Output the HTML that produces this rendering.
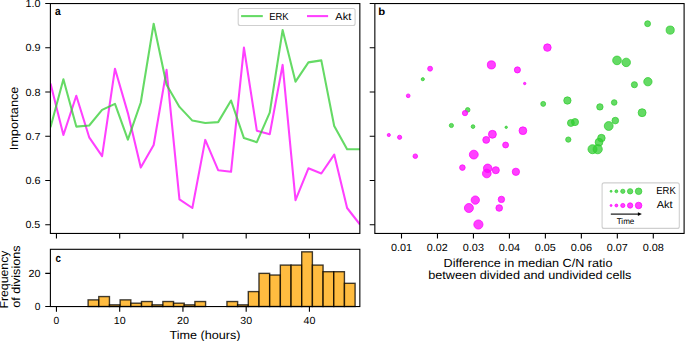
<!DOCTYPE html>
<html><head><meta charset="utf-8"><title>Figure</title>
<style>html,body{margin:0;padding:0;background:#fff;}body{width:685px;height:341px;overflow:hidden;font-family:"Liberation Sans",sans-serif;}svg{display:block;}</style>
</head><body>
<svg width="685" height="341" viewBox="0 0 685 341" font-family="Liberation Sans, sans-serif" text-rendering="geometricPrecision">
<rect width="685" height="341" fill="#fff"/>
<clipPath id="ca"><rect x="50.4" y="3.55" width="309.45000000000005" height="229.89999999999998"/></clipPath>
<g clip-path="url(#ca)"><polyline points="50.50,83.50 63.40,135.00 76.29,95.80 89.19,137.30 102.08,156.20 114.98,68.70 127.88,113.10 140.77,167.60 153.67,145.00 166.56,69.90 179.46,199.40 192.35,208.00 205.25,139.90 218.15,170.20 231.04,171.80 243.94,47.60 256.83,130.70 269.73,134.30 282.62,64.90 295.52,200.10 308.42,168.30 321.31,173.50 334.21,154.60 347.10,208.00 360.00,224.50" fill="none" stroke="rgba(255,0,255,0.75)" stroke-width="2.08" stroke-linejoin="round" stroke-linecap="butt"/><polyline points="50.50,127.30 63.40,79.20 76.29,126.60 89.19,125.50 102.08,109.90 114.98,103.90 127.88,139.60 140.77,102.50 153.67,23.70 166.56,84.70 179.46,106.90 192.35,120.60 205.25,123.00 218.15,122.10 231.04,100.50 243.94,138.10 256.83,142.20 269.73,112.70 282.62,30.10 295.52,81.70 308.42,62.40 321.31,60.40 334.21,126.00 347.10,149.20 360.00,149.20" fill="none" stroke="rgba(50,205,50,0.75)" stroke-width="2.08" stroke-linejoin="round" stroke-linecap="butt"/></g>
<rect x="238.2" y="8.5" width="116.90000000000003" height="17.0" rx="2" ry="2" fill="rgba(255,255,255,0.8)" stroke="#cfcfcf" stroke-width="1.1"/>
<line x1="241.1" y1="16.1" x2="262.8" y2="16.1" stroke="rgba(50,205,50,0.75)" stroke-width="2.08"/>
<line x1="307.0" y1="16.1" x2="328.1" y2="16.1" stroke="rgba(255,0,255,0.75)" stroke-width="2.08"/>
<text x="269.13" y="19.80" font-size="10.30" textLength="19.40" lengthAdjust="spacingAndGlyphs" fill="#000">ERK</text>
<text x="335.38" y="19.80" font-size="10.30" textLength="15.88" lengthAdjust="spacingAndGlyphs" fill="#000">Akt</text>
<clipPath id="cb"><rect x="374.85" y="3.55" width="309.25" height="229.89999999999998"/></clipPath>
<g clip-path="url(#cb)"><circle cx="506.2" cy="127.3" r="1.20" fill="rgba(50,205,50,0.75)" stroke="rgba(50,205,50,0.75)" stroke-width="1.0"/><circle cx="422.8" cy="79.2" r="1.59" fill="rgba(50,205,50,0.75)" stroke="rgba(50,205,50,0.75)" stroke-width="1.0"/><circle cx="473.0" cy="126.6" r="1.87" fill="rgba(50,205,50,0.75)" stroke="rgba(50,205,50,0.75)" stroke-width="1.0"/><circle cx="451.4" cy="125.5" r="2.10" fill="rgba(50,205,50,0.75)" stroke="rgba(50,205,50,0.75)" stroke-width="1.0"/><circle cx="467.7" cy="109.9" r="2.30" fill="rgba(50,205,50,0.75)" stroke="rgba(50,205,50,0.75)" stroke-width="1.0"/><circle cx="543.2" cy="103.9" r="2.48" fill="rgba(50,205,50,0.75)" stroke="rgba(50,205,50,0.75)" stroke-width="1.0"/><circle cx="568.3" cy="139.6" r="2.64" fill="rgba(50,205,50,0.75)" stroke="rgba(50,205,50,0.75)" stroke-width="1.0"/><circle cx="614.2" cy="102.5" r="2.80" fill="rgba(50,205,50,0.75)" stroke="rgba(50,205,50,0.75)" stroke-width="1.0"/><circle cx="647.6" cy="23.7" r="2.94" fill="rgba(50,205,50,0.75)" stroke="rgba(50,205,50,0.75)" stroke-width="1.0"/><circle cx="634.4" cy="84.7" r="3.07" fill="rgba(50,205,50,0.75)" stroke="rgba(50,205,50,0.75)" stroke-width="1.0"/><circle cx="599.9" cy="106.9" r="3.20" fill="rgba(50,205,50,0.75)" stroke="rgba(50,205,50,0.75)" stroke-width="1.0"/><circle cx="615.3" cy="120.6" r="3.32" fill="rgba(50,205,50,0.75)" stroke="rgba(50,205,50,0.75)" stroke-width="1.0"/><circle cx="570.9" cy="123.0" r="3.44" fill="rgba(50,205,50,0.75)" stroke="rgba(50,205,50,0.75)" stroke-width="1.0"/><circle cx="575.0" cy="122.1" r="3.55" fill="rgba(50,205,50,0.75)" stroke="rgba(50,205,50,0.75)" stroke-width="1.0"/><circle cx="567.4" cy="100.5" r="3.66" fill="rgba(50,205,50,0.75)" stroke="rgba(50,205,50,0.75)" stroke-width="1.0"/><circle cx="601.4" cy="138.1" r="3.77" fill="rgba(50,205,50,0.75)" stroke="rgba(50,205,50,0.75)" stroke-width="1.0"/><circle cx="599.0" cy="142.2" r="3.87" fill="rgba(50,205,50,0.75)" stroke="rgba(50,205,50,0.75)" stroke-width="1.0"/><circle cx="642.1" cy="112.7" r="3.97" fill="rgba(50,205,50,0.75)" stroke="rgba(50,205,50,0.75)" stroke-width="1.0"/><circle cx="670.2" cy="30.1" r="4.06" fill="rgba(50,205,50,0.75)" stroke="rgba(50,205,50,0.75)" stroke-width="1.0"/><circle cx="647.9" cy="81.7" r="4.16" fill="rgba(50,205,50,0.75)" stroke="rgba(50,205,50,0.75)" stroke-width="1.0"/><circle cx="626.2" cy="62.4" r="4.25" fill="rgba(50,205,50,0.75)" stroke="rgba(50,205,50,0.75)" stroke-width="1.0"/><circle cx="617.0" cy="60.4" r="4.34" fill="rgba(50,205,50,0.75)" stroke="rgba(50,205,50,0.75)" stroke-width="1.0"/><circle cx="608.7" cy="126.0" r="4.42" fill="rgba(50,205,50,0.75)" stroke="rgba(50,205,50,0.75)" stroke-width="1.0"/><circle cx="592.5" cy="149.2" r="4.51" fill="rgba(50,205,50,0.75)" stroke="rgba(50,205,50,0.75)" stroke-width="1.0"/><circle cx="597.7" cy="149.2" r="4.59" fill="rgba(50,205,50,0.75)" stroke="rgba(50,205,50,0.75)" stroke-width="1.0"/><circle cx="524.7" cy="83.5" r="1.20" fill="rgba(255,0,255,0.75)" stroke="rgba(255,0,255,0.75)" stroke-width="1.0"/><circle cx="388.8" cy="135.0" r="1.59" fill="rgba(255,0,255,0.75)" stroke="rgba(255,0,255,0.75)" stroke-width="1.0"/><circle cx="408.2" cy="95.8" r="1.87" fill="rgba(255,0,255,0.75)" stroke="rgba(255,0,255,0.75)" stroke-width="1.0"/><circle cx="399.6" cy="137.3" r="2.10" fill="rgba(255,0,255,0.75)" stroke="rgba(255,0,255,0.75)" stroke-width="1.0"/><circle cx="415.3" cy="156.2" r="2.30" fill="rgba(255,0,255,0.75)" stroke="rgba(255,0,255,0.75)" stroke-width="1.0"/><circle cx="430.1" cy="68.7" r="2.48" fill="rgba(255,0,255,0.75)" stroke="rgba(255,0,255,0.75)" stroke-width="1.0"/><circle cx="465.0" cy="113.1" r="2.64" fill="rgba(255,0,255,0.75)" stroke="rgba(255,0,255,0.75)" stroke-width="1.0"/><circle cx="462.4" cy="167.6" r="2.80" fill="rgba(255,0,255,0.75)" stroke="rgba(255,0,255,0.75)" stroke-width="1.0"/><circle cx="505.6" cy="145.0" r="2.94" fill="rgba(255,0,255,0.75)" stroke="rgba(255,0,255,0.75)" stroke-width="1.0"/><circle cx="517.4" cy="69.9" r="3.07" fill="rgba(255,0,255,0.75)" stroke="rgba(255,0,255,0.75)" stroke-width="1.0"/><circle cx="501.4" cy="199.4" r="3.20" fill="rgba(255,0,255,0.75)" stroke="rgba(255,0,255,0.75)" stroke-width="1.0"/><circle cx="499.2" cy="208.0" r="3.32" fill="rgba(255,0,255,0.75)" stroke="rgba(255,0,255,0.75)" stroke-width="1.0"/><circle cx="486.2" cy="139.9" r="3.44" fill="rgba(255,0,255,0.75)" stroke="rgba(255,0,255,0.75)" stroke-width="1.0"/><circle cx="495.8" cy="170.2" r="3.55" fill="rgba(255,0,255,0.75)" stroke="rgba(255,0,255,0.75)" stroke-width="1.0"/><circle cx="515.9" cy="171.8" r="3.66" fill="rgba(255,0,255,0.75)" stroke="rgba(255,0,255,0.75)" stroke-width="1.0"/><circle cx="547.4" cy="47.6" r="3.77" fill="rgba(255,0,255,0.75)" stroke="rgba(255,0,255,0.75)" stroke-width="1.0"/><circle cx="522.9" cy="130.7" r="3.87" fill="rgba(255,0,255,0.75)" stroke="rgba(255,0,255,0.75)" stroke-width="1.0"/><circle cx="492.4" cy="134.3" r="3.97" fill="rgba(255,0,255,0.75)" stroke="rgba(255,0,255,0.75)" stroke-width="1.0"/><circle cx="491.4" cy="64.9" r="4.06" fill="rgba(255,0,255,0.75)" stroke="rgba(255,0,255,0.75)" stroke-width="1.0"/><circle cx="475.3" cy="200.1" r="4.16" fill="rgba(255,0,255,0.75)" stroke="rgba(255,0,255,0.75)" stroke-width="1.0"/><circle cx="487.7" cy="168.3" r="4.25" fill="rgba(255,0,255,0.75)" stroke="rgba(255,0,255,0.75)" stroke-width="1.0"/><circle cx="486.8" cy="173.5" r="4.34" fill="rgba(255,0,255,0.75)" stroke="rgba(255,0,255,0.75)" stroke-width="1.0"/><circle cx="473.8" cy="154.6" r="4.42" fill="rgba(255,0,255,0.75)" stroke="rgba(255,0,255,0.75)" stroke-width="1.0"/><circle cx="468.9" cy="208.0" r="4.51" fill="rgba(255,0,255,0.75)" stroke="rgba(255,0,255,0.75)" stroke-width="1.0"/><circle cx="478.4" cy="224.5" r="4.59" fill="rgba(255,0,255,0.75)" stroke="rgba(255,0,255,0.75)" stroke-width="1.0"/></g>
<rect x="602.1" y="182.9" width="77.19999999999993" height="45.5" rx="2" ry="2" fill="rgba(255,255,255,0.8)" stroke="#cfcfcf" stroke-width="1.1"/>
<circle cx="611.07" cy="191.3" r="0.99" fill="rgba(50,205,50,0.75)" stroke="rgba(50,205,50,0.75)" stroke-width="1.0"/>
<circle cx="611.07" cy="205.5" r="0.99" fill="rgba(255,0,255,0.75)" stroke="rgba(255,0,255,0.75)" stroke-width="1.0"/>
<circle cx="616.38" cy="191.3" r="1.44" fill="rgba(50,205,50,0.75)" stroke="rgba(50,205,50,0.75)" stroke-width="1.0"/>
<circle cx="616.38" cy="205.5" r="1.44" fill="rgba(255,0,255,0.75)" stroke="rgba(255,0,255,0.75)" stroke-width="1.0"/>
<circle cx="622.82" cy="191.3" r="2.1100000000000003" fill="rgba(50,205,50,0.75)" stroke="rgba(50,205,50,0.75)" stroke-width="1.0"/>
<circle cx="622.82" cy="205.5" r="2.1100000000000003" fill="rgba(255,0,255,0.75)" stroke="rgba(255,0,255,0.75)" stroke-width="1.0"/>
<circle cx="630.12" cy="191.3" r="2.67" fill="rgba(50,205,50,0.75)" stroke="rgba(50,205,50,0.75)" stroke-width="1.0"/>
<circle cx="630.12" cy="205.5" r="2.67" fill="rgba(255,0,255,0.75)" stroke="rgba(255,0,255,0.75)" stroke-width="1.0"/>
<circle cx="638.6" cy="191.3" r="3.27" fill="rgba(50,205,50,0.75)" stroke="rgba(50,205,50,0.75)" stroke-width="1.0"/>
<circle cx="638.6" cy="205.5" r="3.27" fill="rgba(255,0,255,0.75)" stroke="rgba(255,0,255,0.75)" stroke-width="1.0"/>
<line x1="610.8" y1="214.1" x2="638.6" y2="214.1" stroke="#000" stroke-width="1.1"/>
<path d="M641.9,214.1 L637.9,212.2 L637.9,216.0 Z" fill="#000"/>
<text x="656.33" y="193.90" font-size="10.30" textLength="19.40" lengthAdjust="spacingAndGlyphs" fill="#000">ERK</text>
<text x="656.68" y="208.20" font-size="10.30" textLength="15.88" lengthAdjust="spacingAndGlyphs" fill="#000">Akt</text>
<text x="616.72" y="223.70" font-size="8.22" textLength="17.65" lengthAdjust="spacingAndGlyphs" fill="#000">Time</text>
<rect x="88.10" y="299.87" width="10.68" height="6.63" fill="rgba(255,165,0,0.75)" stroke="rgba(0,0,0,0.75)" stroke-width="1.39"/>
<rect x="98.78" y="296.56" width="10.68" height="9.94" fill="rgba(255,165,0,0.75)" stroke="rgba(0,0,0,0.75)" stroke-width="1.39"/>
<rect x="109.46" y="304.84" width="10.68" height="1.66" fill="rgba(255,165,0,0.75)" stroke="rgba(0,0,0,0.75)" stroke-width="1.39"/>
<rect x="120.14" y="299.87" width="10.68" height="6.63" fill="rgba(255,165,0,0.75)" stroke="rgba(0,0,0,0.75)" stroke-width="1.39"/>
<rect x="130.82" y="303.19" width="10.68" height="3.31" fill="rgba(255,165,0,0.75)" stroke="rgba(0,0,0,0.75)" stroke-width="1.39"/>
<rect x="141.50" y="301.53" width="10.68" height="4.97" fill="rgba(255,165,0,0.75)" stroke="rgba(0,0,0,0.75)" stroke-width="1.39"/>
<rect x="152.18" y="304.84" width="10.68" height="1.66" fill="rgba(255,165,0,0.75)" stroke="rgba(0,0,0,0.75)" stroke-width="1.39"/>
<rect x="162.86" y="301.53" width="10.68" height="4.97" fill="rgba(255,165,0,0.75)" stroke="rgba(0,0,0,0.75)" stroke-width="1.39"/>
<rect x="173.54" y="303.19" width="10.68" height="3.31" fill="rgba(255,165,0,0.75)" stroke="rgba(0,0,0,0.75)" stroke-width="1.39"/>
<rect x="184.22" y="304.84" width="10.68" height="1.66" fill="rgba(255,165,0,0.75)" stroke="rgba(0,0,0,0.75)" stroke-width="1.39"/>
<rect x="194.90" y="301.53" width="10.68" height="4.97" fill="rgba(255,165,0,0.75)" stroke="rgba(0,0,0,0.75)" stroke-width="1.39"/>
<rect x="205.58" y="306.50" width="10.68" height="0.00" fill="rgba(255,165,0,0.75)" stroke="rgba(0,0,0,0.75)" stroke-width="1.39"/>
<rect x="216.26" y="306.50" width="10.68" height="0.00" fill="rgba(255,165,0,0.75)" stroke="rgba(0,0,0,0.75)" stroke-width="1.39"/>
<rect x="226.94" y="301.53" width="10.68" height="4.97" fill="rgba(255,165,0,0.75)" stroke="rgba(0,0,0,0.75)" stroke-width="1.39"/>
<rect x="237.62" y="304.84" width="10.68" height="1.66" fill="rgba(255,165,0,0.75)" stroke="rgba(0,0,0,0.75)" stroke-width="1.39"/>
<rect x="248.30" y="291.59" width="10.68" height="14.91" fill="rgba(255,165,0,0.75)" stroke="rgba(0,0,0,0.75)" stroke-width="1.39"/>
<rect x="258.98" y="273.37" width="10.68" height="33.13" fill="rgba(255,165,0,0.75)" stroke="rgba(0,0,0,0.75)" stroke-width="1.39"/>
<rect x="269.66" y="275.03" width="10.68" height="31.47" fill="rgba(255,165,0,0.75)" stroke="rgba(0,0,0,0.75)" stroke-width="1.39"/>
<rect x="280.34" y="265.09" width="10.68" height="41.41" fill="rgba(255,165,0,0.75)" stroke="rgba(0,0,0,0.75)" stroke-width="1.39"/>
<rect x="291.02" y="265.09" width="10.68" height="41.41" fill="rgba(255,165,0,0.75)" stroke="rgba(0,0,0,0.75)" stroke-width="1.39"/>
<rect x="301.70" y="251.84" width="10.68" height="54.66" fill="rgba(255,165,0,0.75)" stroke="rgba(0,0,0,0.75)" stroke-width="1.39"/>
<rect x="312.38" y="265.09" width="10.68" height="41.41" fill="rgba(255,165,0,0.75)" stroke="rgba(0,0,0,0.75)" stroke-width="1.39"/>
<rect x="323.06" y="271.71" width="10.68" height="34.79" fill="rgba(255,165,0,0.75)" stroke="rgba(0,0,0,0.75)" stroke-width="1.39"/>
<rect x="333.74" y="271.71" width="10.68" height="34.79" fill="rgba(255,165,0,0.75)" stroke="rgba(0,0,0,0.75)" stroke-width="1.39"/>
<rect x="344.42" y="283.31" width="10.68" height="23.19" fill="rgba(255,165,0,0.75)" stroke="rgba(0,0,0,0.75)" stroke-width="1.39"/>
<rect x="50.4" y="3.55" width="309.45" height="229.90" fill="none" stroke="#000" stroke-width="1.1" stroke-linecap="square"/>
<rect x="374.85" y="3.55" width="309.25" height="229.90" fill="none" stroke="#000" stroke-width="1.1" stroke-linecap="square"/>
<rect x="50.4" y="249.3" width="309.45" height="57.25" fill="none" stroke="#000" stroke-width="1.1" stroke-linecap="square"/>
<path d="M45.25,224.80H50.4M369.70,224.80H374.85M45.25,180.53H50.4M369.70,180.53H374.85M45.25,136.26H50.4M369.70,136.26H374.85M45.25,91.99H50.4M369.70,91.99H374.85M45.25,47.72H50.4M369.70,47.72H374.85M45.25,3.45H50.4M369.70,3.45H374.85M56.45,233.45V238.60M56.45,306.55V311.70M119.69,233.45V238.60M119.69,306.55V311.70M182.94,233.45V238.60M182.94,306.55V311.70M246.19,233.45V238.60M246.19,306.55V311.70M309.43,233.45V238.60M309.43,306.55V311.70M401.50,233.45V238.60M437.47,233.45V238.60M473.44,233.45V238.60M509.41,233.45V238.60M545.38,233.45V238.60M581.35,233.45V238.60M617.32,233.45V238.60M653.29,233.45V238.60M45.25,306.50H50.4M45.25,273.37H50.4" stroke="#000" stroke-width="1.1" fill="none"/>
<text x="25.45" y="228.35" font-size="10.30" textLength="14.83" lengthAdjust="spacingAndGlyphs" fill="#000">0.5</text>
<text x="25.44" y="184.08" font-size="10.30" textLength="15.11" lengthAdjust="spacingAndGlyphs" fill="#000">0.6</text>
<text x="25.44" y="139.81" font-size="10.30" textLength="14.95" lengthAdjust="spacingAndGlyphs" fill="#000">0.7</text>
<text x="25.44" y="95.54" font-size="10.30" textLength="15.05" lengthAdjust="spacingAndGlyphs" fill="#000">0.8</text>
<text x="25.44" y="51.27" font-size="10.30" textLength="15.07" lengthAdjust="spacingAndGlyphs" fill="#000">0.9</text>
<text x="25.47" y="7.00" font-size="10.30" textLength="14.99" lengthAdjust="spacingAndGlyphs" fill="#000">1.0</text>
<text x="34.74" y="310.05" font-size="10.30" textLength="5.70" lengthAdjust="spacingAndGlyphs" fill="#000">0</text>
<text x="28.48" y="276.92" font-size="10.30" textLength="11.97" lengthAdjust="spacingAndGlyphs" fill="#000">20</text>
<text x="53.60" y="323.60" font-size="10.30" textLength="5.70" lengthAdjust="spacingAndGlyphs" fill="#000">0</text>
<text x="113.76" y="323.60" font-size="10.30" textLength="11.89" lengthAdjust="spacingAndGlyphs" fill="#000">10</text>
<text x="176.93" y="323.60" font-size="10.30" textLength="11.97" lengthAdjust="spacingAndGlyphs" fill="#000">20</text>
<text x="240.34" y="323.60" font-size="10.30" textLength="11.80" lengthAdjust="spacingAndGlyphs" fill="#000">30</text>
<text x="303.47" y="323.60" font-size="10.30" textLength="11.91" lengthAdjust="spacingAndGlyphs" fill="#000">40</text>
<text x="390.90" y="250.80" font-size="10.30" textLength="21.06" lengthAdjust="spacingAndGlyphs" fill="#000">0.01</text>
<text x="426.87" y="250.80" font-size="10.30" textLength="20.99" lengthAdjust="spacingAndGlyphs" fill="#000">0.02</text>
<text x="462.84" y="250.80" font-size="10.30" textLength="21.12" lengthAdjust="spacingAndGlyphs" fill="#000">0.03</text>
<text x="498.80" y="250.80" font-size="10.30" textLength="21.20" lengthAdjust="spacingAndGlyphs" fill="#000">0.04</text>
<text x="534.78" y="250.80" font-size="10.30" textLength="21.03" lengthAdjust="spacingAndGlyphs" fill="#000">0.05</text>
<text x="570.74" y="250.80" font-size="10.30" textLength="21.30" lengthAdjust="spacingAndGlyphs" fill="#000">0.06</text>
<text x="606.72" y="250.80" font-size="10.30" textLength="21.14" lengthAdjust="spacingAndGlyphs" fill="#000">0.07</text>
<text x="642.68" y="250.80" font-size="10.30" textLength="21.24" lengthAdjust="spacingAndGlyphs" fill="#000">0.08</text>
<text x="169.45" y="339.40" font-size="11.78" textLength="71.10" lengthAdjust="spacingAndGlyphs" fill="#000">Time (hours)</text>
<text x="443.55" y="266.70" font-size="11.78" textLength="168.88" lengthAdjust="spacingAndGlyphs" fill="#000">Difference in median C/N ratio</text>
<text x="428.22" y="279.10" font-size="11.78" textLength="203.26" lengthAdjust="spacingAndGlyphs" fill="#000">between divided and undivided cells</text>
<text transform="translate(17.80,118.40) rotate(-90)" x="-31.92" y="0" font-size="11.78" textLength="63.73" lengthAdjust="spacingAndGlyphs">Importance</text>
<text transform="translate(8.00,307.60) rotate(-90)" x="-1.01" y="0" font-size="11.78" textLength="58.06" lengthAdjust="spacingAndGlyphs">Frequency</text>
<text transform="translate(20.40,307.35) rotate(-90)" x="-0.53" y="0" font-size="11.78" textLength="62.37" lengthAdjust="spacingAndGlyphs">of divisions</text>
<text x="55.00" y="15.30" font-size="11.54" font-weight="bold" textLength="5.71" lengthAdjust="spacingAndGlyphs" fill="#000">a</text>
<text x="378.35" y="15.00" font-size="10.30" font-weight="bold" textLength="6.92" lengthAdjust="spacingAndGlyphs" fill="#000">b</text>
<text x="55.42" y="261.90" font-size="11.54" font-weight="bold" textLength="5.45" lengthAdjust="spacingAndGlyphs" fill="#000">c</text>
</svg>
</body></html>
